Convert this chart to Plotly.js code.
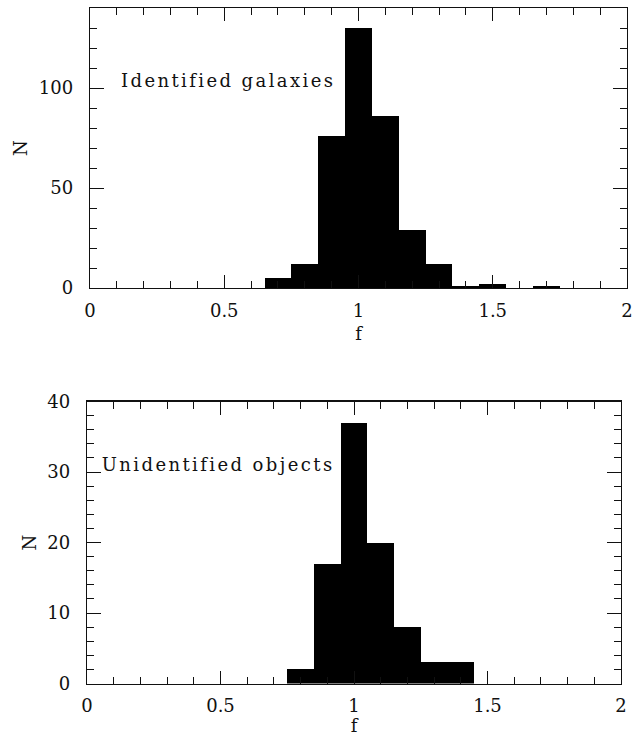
<!DOCTYPE html>
<html>
<head>
<meta charset="utf-8">
<script src="https://cdn.plot.ly/plotly-3.0.1.min.js"></script>
<style>
html,body{margin:0;padding:0;background:#fff;}
#chart{width:633px;height:736px;}
#chart .annotation-text{letter-spacing:2.4px;}
</style>
</head>
<body>
<div id="chart"></div>
<script>
// Bin centres (bin width 0.1)
const binsTop = [0.7, 0.8, 0.9, 1.0, 1.1, 1.2, 1.3, 1.4, 1.5, 1.6, 1.7];
const countsIdentified = [5, 12, 76, 130, 86, 29, 12, 1, 2, 0, 1];
const binsBottom = [0.8, 0.9, 1.0, 1.1, 1.2, 1.3, 1.4];
const countsUnidentified = [2, 17, 37, 20, 8, 3, 3];
const binWidth = 0.1;
const xTickVals = [0, 0.5, 1, 1.5, 2];
const xTickText = ['0', '0.5', '1', '1.5', '2'];
const yTopTicks = [0, 50, 100];
const yBottomTicks = [0, 10, 20, 30, 40];
const labelTop = 'Identified galaxies';
const labelBottom = 'Unidentified objects';

const FONT = 'DejaVu Serif, Liberation Serif, serif';
const INK = '#111';

const traces = [
  {type: 'bar', x: binsTop, y: countsIdentified, width: binsTop.map(() => binWidth),
   marker: {color: '#000', line: {width: 0}}, xaxis: 'x', yaxis: 'y', hoverinfo: 'none'},
  {type: 'bar', x: binsBottom, y: countsUnidentified, width: binsBottom.map(() => binWidth),
   marker: {color: '#000', line: {width: 0}}, xaxis: 'x2', yaxis: 'y2', hoverinfo: 'none'}
];

function xAxis(domain, anchor) {
  return {
    domain: domain, anchor: anchor, range: [0, 2],
    tickmode: 'array', tickvals: xTickVals, ticktext: xTickText,
    ticks: 'inside', ticklen: 13, tickwidth: 1, tickcolor: INK,
    minor: {dtick: 0.1, tick0: 0, ticks: 'inside', ticklen: 7, tickwidth: 1, tickcolor: INK},
    showline: true, linecolor: INK, linewidth: 1.2, mirror: 'ticks',
    showgrid: false, zeroline: false,
    ticklabelstandoff: 6,
    tickfont: {family: FONT, size: 18, color: INK},
    title: {text: 'f', font: {family: FONT, size: 18, color: INK}, standoff: 7}
  };
}
function yAxis(domain, anchor, range, ticks, minorStep) {
  return {
    domain: domain, anchor: anchor, range: range,
    tickmode: 'array', tickvals: ticks,
    ticks: 'inside', ticklen: 14, tickwidth: 1, tickcolor: INK,
    minor: {dtick: minorStep, tick0: 0, ticks: 'inside', ticklen: 7, tickwidth: 1, tickcolor: INK},
    showline: true, linecolor: INK, linewidth: 1.2, mirror: 'ticks',
    showgrid: false, zeroline: false,
    ticklabelstandoff: 12,
    tickfont: {family: FONT, size: 18, color: INK},
    title: {text: 'N', font: {family: FONT, size: 18, color: INK}, standoff: 6}
  };
}

const layout = {
  width: 633, height: 736,
  margin: {l: 0, r: 0, t: 0, b: 0},
  paper_bgcolor: '#fff', plot_bgcolor: '#fff',
  showlegend: false, bargap: 0,
  xaxis: xAxis([90/633, 627/633], 'y'),
  yaxis: yAxis([1 - 288/736, 1 - 8/736], 'x', [0, 140], yTopTicks, 10),
  xaxis2: xAxis([87/633, 621/633], 'y2'),
  yaxis2: yAxis([1 - 683.5/736, 1 - 401.5/736], 'x2', [0, 40], yBottomTicks, 2),
  annotations: [
    {text: labelTop, xref: 'x', yref: 'y', x: 0.193, y: 104, xanchor: 'left', yanchor: 'middle',
     showarrow: false, font: {family: FONT, size: 18, color: INK}},
    {text: labelBottom, xref: 'x2', yref: 'y2', x: 0.139, y: 31, xanchor: 'left', yanchor: 'middle',
     showarrow: false, font: {family: FONT, size: 18, color: INK}}
  ]
};

Plotly.newPlot('chart', traces, layout, {displayModeBar: false, staticPlot: true});
</script>
</body>
</html>
